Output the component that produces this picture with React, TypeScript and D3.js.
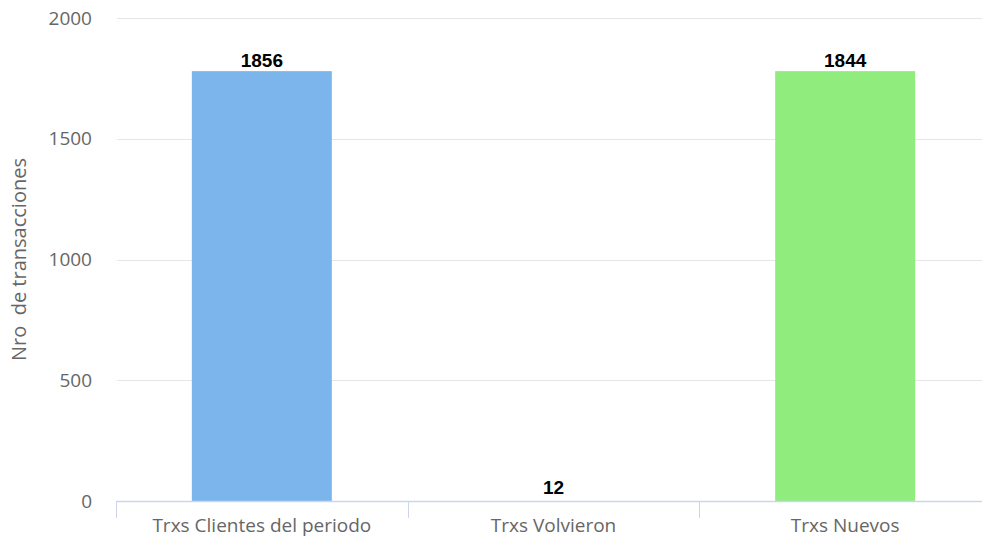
import React from "react";
import * as d3 from "d3";

const categories = ["Trxs Clientes del periodo", "Trxs Volvieron", "Trxs Nuevos"];
const labelValues = [1856, 12, 1844];
const barValues = [1780, 12, 1780];
const barColors = ["#7cb5ec", "#ffffff", "#90ed7d"];
const yTicks = [0, 500, 1000, 1500, 2000];

const W = 982;
const H = 537;
const M = { left: 117, right: -9, top: 18, bottom: 36 };

export default function App() {
  const x = d3
    .scaleBand<string>()
    .domain(categories)
    .range([M.left - 1, W - M.right])
    .paddingInner(0)
    .paddingOuter(0);
  const y = d3.scaleLinear().domain([0, 2000]).range([H - M.bottom, M.top]);
  const bw = 140;
  const font = "'Open Sans', 'DejaVu Sans', sans-serif";
  const boundaries = categories.map((c) => x(c)!).concat([x(categories[2])! + x.bandwidth()]);
  return (
    <svg width={W} height={H} style={{ position: "absolute", left: 0, top: 0, background: "#fff" }}>
      {yTicks.slice(1).map((t) => (
        <line key={t} x1={M.left} x2={W} y1={Math.round(y(t)) + 0.5} y2={Math.round(y(t)) + 0.5} stroke="#e6e6e6" />
      ))}
      {yTicks.map((t) => (
        <text key={"l" + t} x={92} y={y(t)} dy="0.35em" textAnchor="end" fontFamily={font} fontSize={19} fill="#666">
          {t}
        </text>
      ))}
      <text
        transform={`translate(26,${(y(0) + y(2000)) / 2}) rotate(-90)`}
        textAnchor="middle"
        fontFamily={font}
        fontSize={20}
        fill="#666"
        style={{ whiteSpace: "pre" }}
      >
        {"Nro  de transacciones"}
      </text>
      {categories.map((c, i) => {
        const cx = x(c)! + x.bandwidth() / 2;
        return (
          <g key={c}>
            <rect x={cx - bw / 2} y={y(barValues[i])} width={bw} height={y(0) - y(barValues[i])} fill={barColors[i]} />
            <text
              x={cx}
              y={y(barValues[i]) - 4}
              textAnchor="middle"
              fontFamily="'Liberation Sans', Arial, sans-serif"
              fontWeight="bold"
              fontSize={19}
              fill="#000"
              stroke="#fff"
              strokeWidth={2}
              paintOrder="stroke"
            >
              {labelValues[i]}
            </text>
            <text x={cx} y={532} textAnchor="middle" fontFamily={font} fontSize={19} fill="#666">
              {c}
            </text>
          </g>
        );
      })}
      <line x1={M.left - 1} x2={W} y1={501.5} y2={501.5} stroke="#ccd6eb" strokeWidth={1.5} />
      {boundaries.map((b, i) => (
        <line key={"t" + i} x1={Math.round(b) + 0.5} x2={Math.round(b) + 0.5} y1={501} y2={518} stroke="#ccd6eb" />
      ))}
    </svg>
  );
}
